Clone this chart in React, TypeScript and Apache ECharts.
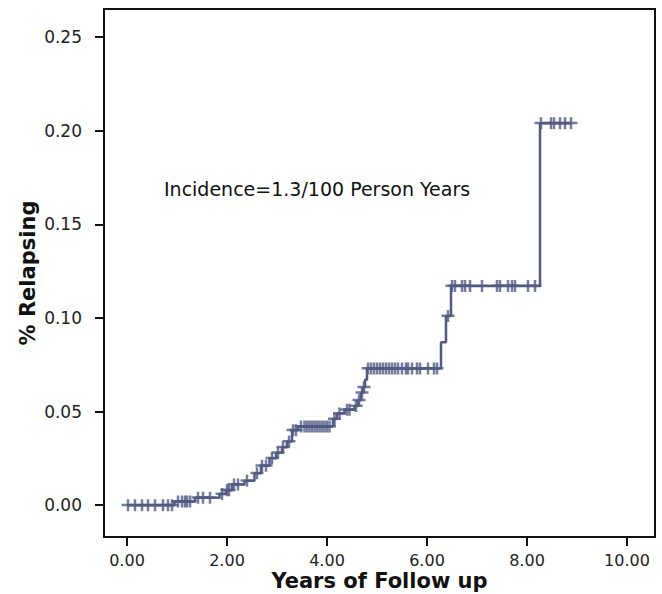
import React, { useEffect, useRef } from "react";
import * as echarts from "echarts";

// Event times (years) and cumulative relapse proportion after each event
const stepTimes = [0, 0.95, 1.36, 1.85, 1.98, 2.1, 2.35, 2.55, 2.68, 2.85, 2.98, 3.1, 3.2, 3.3, 3.42, 4.12, 4.2, 4.35, 4.55, 4.62, 4.68, 4.72, 4.76, 4.8, 6.28, 6.38, 6.48, 8.26];
const stepValues = [0, 0.002, 0.004, 0.006, 0.008, 0.011, 0.013, 0.017, 0.021, 0.025, 0.028, 0.031, 0.034, 0.04, 0.042, 0.046, 0.049, 0.051, 0.053, 0.056, 0.06, 0.063, 0.067, 0.073, 0.087, 0.101, 0.117, 0.204];
const endTime = 8.88;

// Censoring times (years)
const censorTimes = [
  0.02, 0.16, 0.3, 0.42, 0.56, 0.72, 0.82, 0.9,
  1.02, 1.1, 1.16, 1.2, 1.26,
  1.42, 1.52, 1.66,
  1.9, 2.0, 2.04, 2.14, 2.22, 2.4, 2.6, 2.7, 2.78, 2.9, 3.02, 3.12, 3.24, 3.32, 3.38,
  3.48, 3.55, 3.6, 3.65, 3.7, 3.75, 3.8, 3.85, 3.9, 3.95, 4.0, 4.05,
  4.15, 4.25, 4.4, 4.45, 4.58, 4.64, 4.7, 4.74,
  4.82, 4.88, 4.94, 5.0, 5.06, 5.12, 5.18, 5.24, 5.3, 5.36, 5.42, 5.5, 5.58, 5.62, 5.7, 5.8, 5.86, 6.02, 6.14, 6.2,
  6.42,
  6.5, 6.56, 6.7, 6.76, 6.86, 7.1, 7.4, 7.46, 7.62, 7.7, 7.76, 8.02, 8.16,
  8.28, 8.48, 8.54, 8.66, 8.76, 8.88,
];

const xTicks = [0, 2, 4, 6, 8, 10];
const yTicks = [0, 0.05, 0.1, 0.15, 0.2, 0.25];

const annotation = "Incidence=1.3/100 Person Years";
const xTitle = "Years of Follow up";
const yTitle = "% Relapsing";

const COLOR = "#525a82";
const PLUS =
  "path://M5.25,0H7.75V4.5H13V7H7.75V12H5.25V7H0V4.5H5.25Z";

function valueAt(t: number): number {
  let v = stepValues[0];
  for (let i = 0; i < stepTimes.length; i++) {
    if (stepTimes[i] <= t) v = stepValues[i];
  }
  return v;
}

export default function App() {
  const ref = useRef<HTMLDivElement>(null);
  useEffect(() => {
    if (!ref.current) return;
    const chart = echarts.init(ref.current, undefined, { renderer: "svg" });
    const lineData: number[][] = stepTimes.map((t, i) => [t, stepValues[i]]);
    lineData.push([endTime, valueAt(endTime)]);
    const censorData = censorTimes.map((t) => [t, valueAt(t)]);
    const font = "'DejaVu Sans', Arial, sans-serif";
    chart.setOption({
      animation: false,
      backgroundColor: "#fff",
      grid: {
        left: 104,
        right: 7,
        top: 9,
        bottom: 57,
        containLabel: false,
        outerBoundsMode: "none",
        show: true,
        borderColor: "#111",
        borderWidth: 2,
        backgroundColor: "transparent",
      },
      xAxis: {
        type: "value",
        min: -0.46,
        max: 10.56,
        name: xTitle,
        nameLocation: "middle",
        nameGap: 33,
        nameMoveOverlap: false,
        nameTextStyle: { fontFamily: font, fontWeight: "bold", fontSize: 21, lineHeight: 22, color: "#111" },
        axisLine: { show: true, onZero: false, lineStyle: { color: "#111", width: 2 } },
        axisTick: { show: true, customValues: xTicks, length: 9, lineStyle: { color: "#111", width: 2 } },
        axisLabel: {
          customValues: xTicks,
          formatter: (v: number) => v.toFixed(2),
          fontFamily: font,
          fontSize: 16,
          lineHeight: 18,
          color: "#222",
          margin: 14,
        },
        splitLine: { show: false },
      },
      yAxis: {
        type: "value",
        min: -0.017,
        max: 0.265,
        name: yTitle,
        nameLocation: "middle",
        nameGap: 66,
        nameMoveOverlap: false,
        nameTextStyle: { fontFamily: font, fontWeight: "bold", fontSize: 21, color: "#111" },
        axisLine: { show: true, onZero: false, lineStyle: { color: "#111", width: 2 } },
        axisTick: { show: true, customValues: yTicks, length: 9, lineStyle: { color: "#111", width: 2 } },
        axisLabel: {
          customValues: yTicks,
          formatter: (v: number) => v.toFixed(2),
          fontFamily: font,
          fontSize: 17,
          color: "#222",
          margin: 22,
        },
        splitLine: { show: false },
      },
      graphic: [
        {
          type: "text",
          left: 164,
          top: 179,
          style: { text: annotation, fontFamily: font, fontSize: 19, fill: "#111" },
        },
      ],
      series: [
        {
          type: "line",
          step: "end",
          data: lineData,
          symbol: "none",
          lineStyle: { color: COLOR, width: 2.5 },
          silent: true,
        },
        {
          type: "scatter",
          data: censorData,
          symbol: PLUS,
          symbolSize: [13, 12],
          itemStyle: { color: COLOR },
          silent: true,
        },
      ],
    });
    return () => chart.dispose();
  }, []);
  return (
    <div
      ref={ref}
      style={{ position: "absolute", left: 0, top: 0, width: 662, height: 594 }}
    />
  );
}
